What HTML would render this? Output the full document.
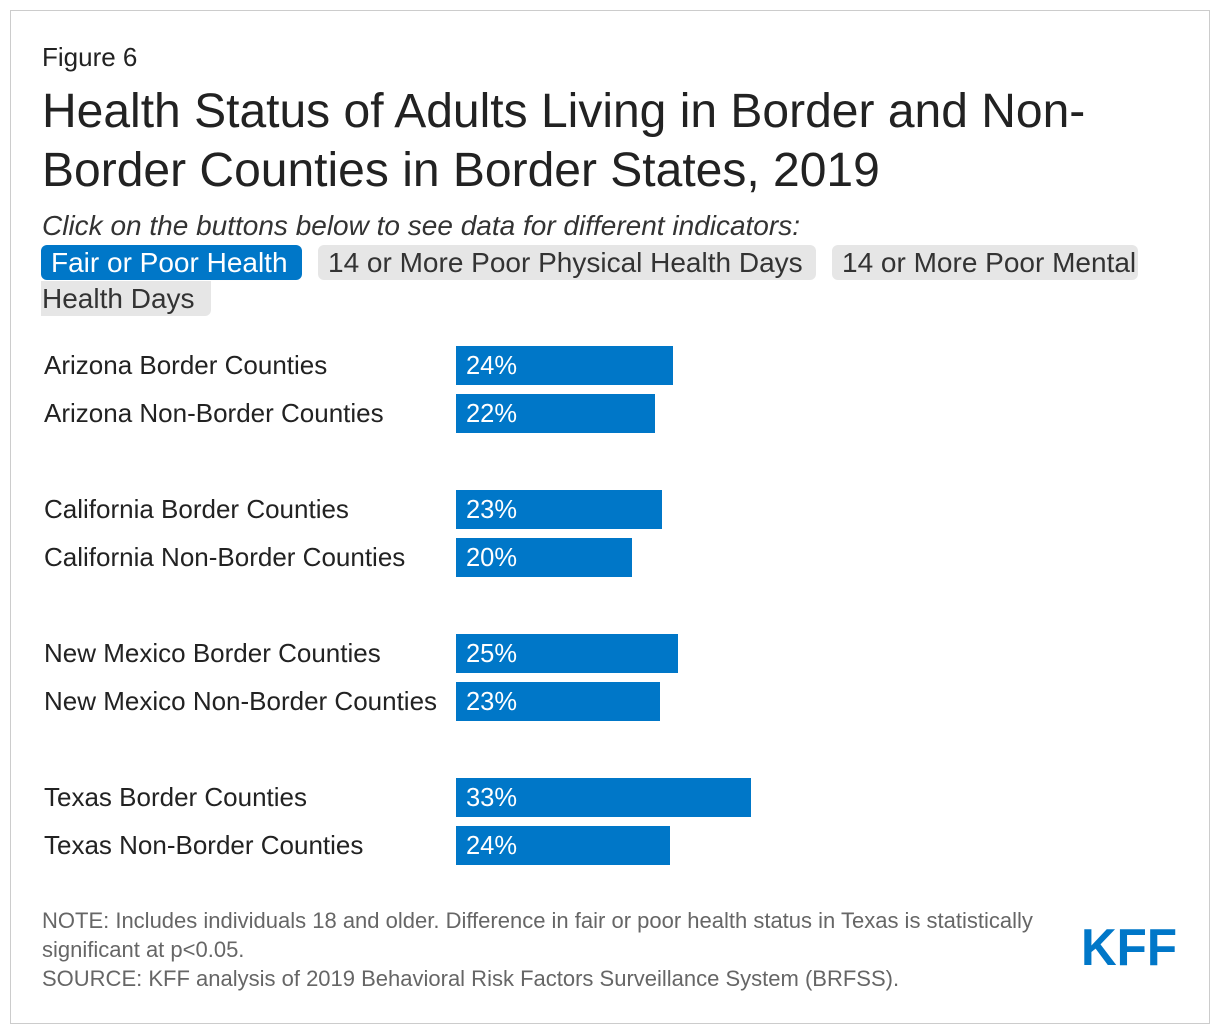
<!DOCTYPE html>
<html><head><meta charset="utf-8"><style>
body{margin:0;width:1220px;height:1034px;background:#fff;font-family:"Liberation Sans",sans-serif;position:relative;overflow:hidden}
.a{position:absolute;white-space:nowrap}
.btn{position:absolute;height:35px;line-height:35px;font-size:28px;color:#333;background:#e6e6e6;border-radius:6px;padding:0 10px;box-sizing:border-box;white-space:nowrap;overflow:hidden}
.lbl{font-size:26px;color:#222}
</style></head><body>
<div class="a" style="left:10px;top:10px;width:1198px;height:1012px;border:1px solid #ccc"></div>
<div class="a" style="left:42px;top:42px;font-size:26px;color:#222">Figure 6</div>
<div class="a" style="left:42px;top:82px;font-size:48px;line-height:59px;color:#222">Health Status of Adults Living in Border and Non-<br>Border Counties in Border States, 2019</div>
<div class="a" style="left:42px;top:210px;font-size:28px;font-style:italic;color:#333">Click on the buttons below to see data for different indicators:</div>
<div class="btn" style="left:41px;top:245px;width:261px;background:#0077c8;color:#fff">Fair or Poor Health</div>
<div class="btn" style="left:318px;top:245px;width:498px">14 or More Poor Physical Health Days</div>
<div class="btn" style="left:832px;top:245px;width:306px">14 or More Poor Mental</div>
<div class="btn" style="left:41px;top:281px;width:170px;padding-left:1px;border-radius:0 0 6px 0">Health Days</div>
<div id="chart"></div>
<div class="a" style="left:42px;top:906px;font-size:22px;line-height:29px;color:#666">NOTE: Includes individuals 18 and older. Difference in fair or poor health status in Texas is statistically<br>significant at p&lt;0.05.<br>SOURCE: KFF analysis of 2019 Behavioral Risk Factors Surveillance System (BRFSS).</div>
<svg class="a" style="left:1078px;top:918px" width="104" height="54"><text x="3" y="47" font-family="Liberation Sans" font-weight="bold" font-size="52" fill="#0077c8" textLength="96" lengthAdjust="spacingAndGlyphs">KFF</text></svg>
<script>
const categories=["Arizona Border Counties","Arizona Non-Border Counties","California Border Counties","California Non-Border Counties","New Mexico Border Counties","New Mexico Non-Border Counties","Texas Border Counties","Texas Non-Border Counties"];
const values=[24.2,22.2,22.9,19.6,24.7,22.7,32.9,23.8];
const valueLabels=["24%","22%","23%","20%","25%","23%","33%","24%"];
const x=v=>v*8.98;
const y=i=>346+Math.floor(i/2)*144+(i%2)*48;
const c=document.getElementById('chart');
categories.forEach((cat,i)=>{
 const l=document.createElement('div');
 l.className='a lbl';
 
 
 l.style.left='44px';l.style.top=(y(i)+4)+'px';l.textContent=cat;c.appendChild(l);
 const b=document.createElement('div');
 b.className='a';
 
 
 b.style.cssText=`left:456px;top:${y(i)}px;width:${x(values[i])}px;height:39px;background:#0077c8;color:#fff;font-size:25.5px;line-height:41px;padding-left:10px;box-sizing:border-box`;
 b.textContent=valueLabels[i];c.appendChild(b);
});
</script>
</body></html>
